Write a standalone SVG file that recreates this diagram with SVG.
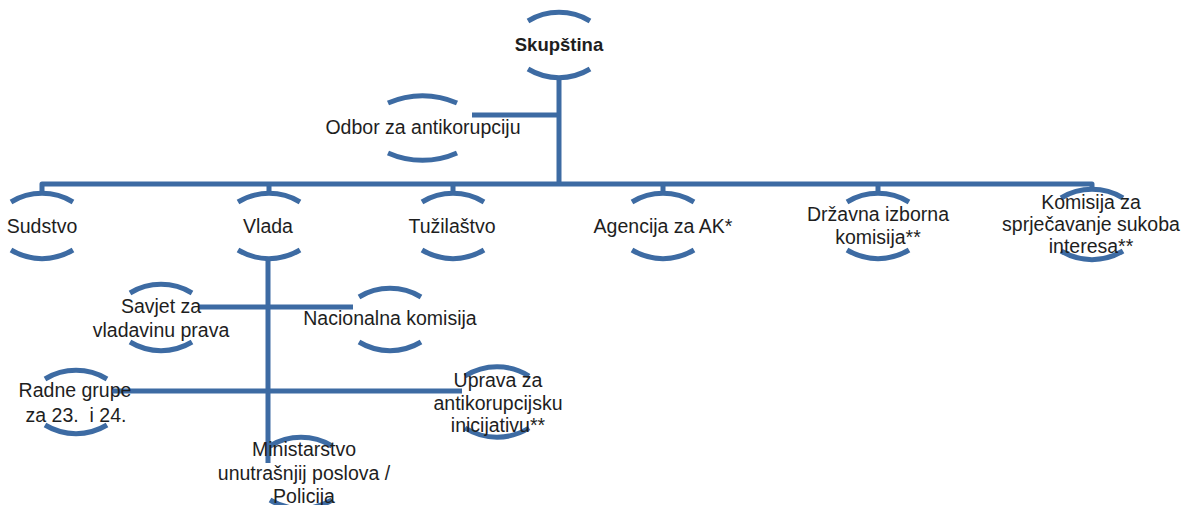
<svg xmlns="http://www.w3.org/2000/svg" width="1182" height="505" viewBox="0 0 1182 505">
<style>
.arc{fill:none;stroke:#3D6BA3;stroke-width:5}
.con{fill:none;stroke:#3D6BA3;stroke-width:5;stroke-linejoin:round}
text{font-family:"Liberation Sans",Arial,sans-serif;font-size:19.5px;fill:#1E1E1E;text-anchor:middle}
.b{font-weight:bold;font-size:18.5px}
</style>
<rect width="1182" height="505" fill="#fff"/>
<g id="connectors">
<path class="con" d="M559 77V184"/>
<path class="con" d="M472 115H559"/>
<path class="con" d="M42 194V184H1092V190"/>
<path class="con" d="M269 184V194M453 184V194M663 184V194M878 184V194"/>
<path class="con" d="M268 258V463"/>
<path class="con" d="M198 307H353"/>
<path class="con" d="M113 391H462"/>
</g>
<g id="skupstina">
<path class="arc" d="M528 21A60 60 0 0 1 590 21"/>
<path class="arc" d="M528 69A60 60 0 0 0 590 69"/>
<text class="b" x="559" y="51">Skupština</text>
</g>
<g id="odbor">
<path class="arc" d="M388 103A85 85 0 0 1 457 103"/>
<path class="arc" d="M388 153A85 85 0 0 0 457 153"/>
<text x="423" y="134">Odbor za antikorupciju</text>
</g>
<g id="sudstvo">
<path class="arc" d="M11 202A60 60 0 0 1 73 202"/>
<path class="arc" d="M11 250A60 60 0 0 0 73 250"/>
<text x="42" y="233">Sudstvo</text>
</g>
<g id="vlada">
<path class="arc" d="M238 202A60 60 0 0 1 300 202"/>
<path class="arc" d="M238 250A60 60 0 0 0 300 250"/>
<text x="268" y="233">Vlada</text>
</g>
<g id="tuzilastvo">
<path class="arc" d="M422 202A60 60 0 0 1 484 202"/>
<path class="arc" d="M422 250A60 60 0 0 0 484 250"/>
<text x="452" y="233">Tužilaštvo</text>
</g>
<g id="agencija">
<path class="arc" d="M632 202A60 60 0 0 1 694 202"/>
<path class="arc" d="M632 250A60 60 0 0 0 694 250"/>
<text x="663" y="233">Agencija za AK*</text>
</g>
<g id="dik">
<path class="arc" d="M847 202A60 60 0 0 1 909 202"/>
<path class="arc" d="M847 250A60 60 0 0 0 909 250"/>
<text x="878" y="221">Državna izborna</text>
<text x="878" y="244">komisija**</text>
</g>
<g id="komisija">
<path class="arc" d="M1061 198A60 60 0 0 1 1123 198"/>
<path class="arc" d="M1061 251A60 60 0 0 0 1123 251"/>
<text x="1091" y="209">Komisija za</text>
<text x="1091" y="231">sprječavanje sukoba</text>
<text x="1091" y="253">interesa**</text>
</g>
<g id="savjet">
<path class="arc" d="M130 293A60 60 0 0 1 192 293"/>
<path class="arc" d="M130 342A60 60 0 0 0 192 342"/>
<text x="161" y="313">Savjet za</text>
<text x="161" y="337">vladavinu prava</text>
</g>
<g id="nacionalna">
<path class="arc" d="M359 297A60 60 0 0 1 421 297"/>
<path class="arc" d="M359 342A60 60 0 0 0 421 342"/>
<text x="390" y="325">Nacionalna komisija</text>
</g>
<g id="radne">
<path class="arc" d="M45 379A60 60 0 0 1 107 379"/>
<path class="arc" d="M45 425A60 60 0 0 0 107 425"/>
<text x="75" y="397">Radne grupe</text>
<text x="76" y="422">za 23.&#160; i 24.</text>
</g>
<g id="uprava">
<path class="arc" d="M465 376A60 60 0 0 1 529 376"/>
<path class="arc" d="M465 428A60 60 0 0 0 529 428"/>
<text x="498" y="387">Uprava za</text>
<text x="498" y="410">antikorupcijsku</text>
<text x="498" y="432">inicijativu**</text>
</g>
<g id="ministarstvo">
<path class="arc" d="M270 446A60 60 0 0 1 332 446"/>
<path class="arc" d="M270 500A60 60 0 0 0 332 500"/>
<text x="304" y="456">Ministarstvo</text>
<text x="304" y="480">unutrašnjij poslova /</text>
<text x="304" y="503">Policija</text>
</g>
</svg>
